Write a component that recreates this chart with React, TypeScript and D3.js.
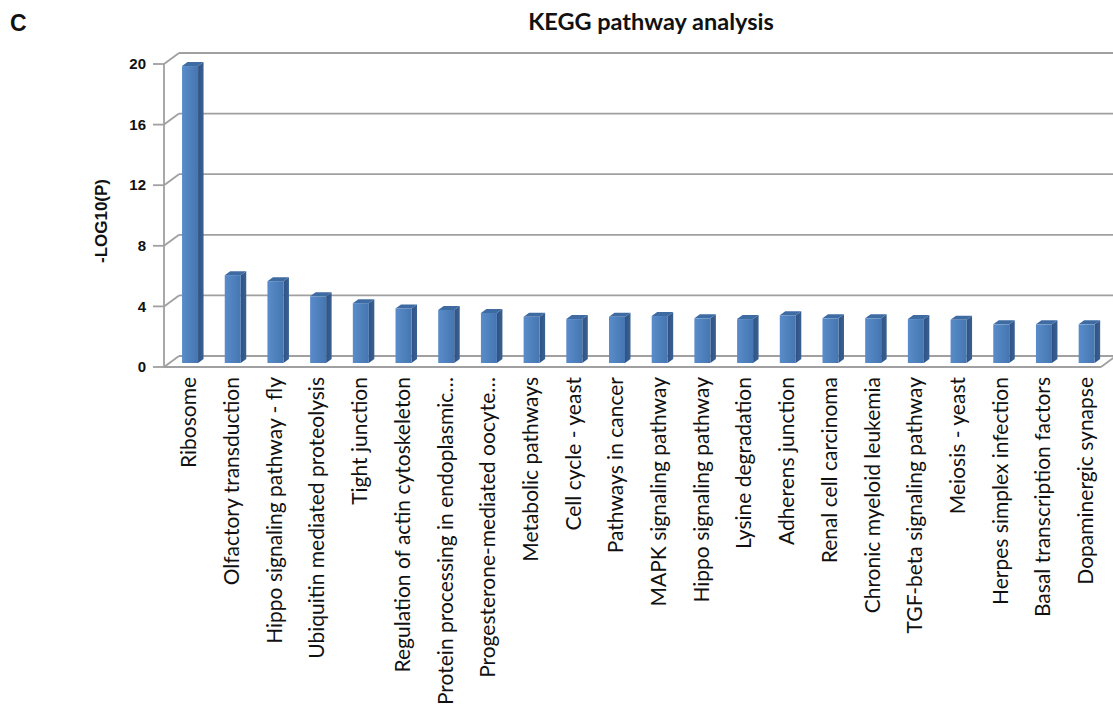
import React from "react";
import * as d3 from "d3";

const categories: string[] = [
  "Ribosome",
  "Olfactory transduction",
  "Hippo signaling pathway - fly",
  "Ubiquitin mediated proteolysis",
  "Tight junction",
  "Regulation of actin cytoskeleton",
  "Protein processing in endoplasmic…",
  "Progesterone-mediated oocyte…",
  "Metabolic pathways",
  "Cell cycle - yeast",
  "Pathways in cancer",
  "MAPK signaling pathway",
  "Hippo signaling pathway",
  "Lysine degradation",
  "Adherens junction",
  "Renal cell carcinoma",
  "Chronic myeloid leukemia",
  "TGF-beta signaling pathway",
  "Meiosis - yeast",
  "Herpes simplex infection",
  "Basal transcription factors",
  "Dopaminergic synapse",
];

const negLogP: number[] = [
  19.6, 5.8, 5.4, 4.4, 3.95, 3.6, 3.5, 3.3, 3.05, 2.9, 3.05, 3.1, 2.95, 2.9,
  3.15, 2.95, 2.95, 2.9, 2.85, 2.55, 2.55, 2.55,
];

const yTicks: number[] = [0, 4, 8, 12, 16, 20];

const W = 1113;
const H = 708;

// Plot box: front plane and depth offset of the 3D wall/floor
const frontLeft = 164;
const frontRight = 1101;
const depthX = 15;
const depthY = -11;
const frontBottom = 367;
const frontTop = 64;

// Column block depth
const barDx = 5.5;
const barDy = -4;

const labelFont = "Lato, 'Open Sans', sans-serif";

export default function App() {
  const yFront = d3.scaleLinear().domain([0, 20]).range([frontBottom, frontTop]);
  const yBack = d3
    .scaleLinear()
    .domain([0, 20])
    .range([frontBottom + depthY, frontTop + depthY]);
  // bars stand a little behind the front plane
  const yBar = d3
    .scaleLinear()
    .domain([0, 20])
    .range([frontBottom - 4, frontTop - 4]);

  const x = d3
    .scaleBand<string>()
    .domain(categories)
    .range([168.7, 1108])
    .paddingInner(0.625)
    .paddingOuter(0.3125);
  const bw = x.bandwidth();

  const grid = "#a0a0a0";

  return (
    <svg
      width={W}
      height={H}
      viewBox={`0 0 ${W} ${H}`}
      style={{ position: "absolute", left: 0, top: 0, background: "#fff" }}
    >
      <defs>
        <linearGradient id="barFront" x1="0" x2="1" y1="0" y2="0">
          <stop offset="0" stopColor="#5a8ccb" />
          <stop offset="0.5" stopColor="#4f81bd" />
          <stop offset="1" stopColor="#4576b2" />
        </linearGradient>
        <linearGradient id="barSide" x1="0" x2="1" y1="0" y2="0">
          <stop offset="0" stopColor="#2f5283" />
          <stop offset="1" stopColor="#3a6193" />
        </linearGradient>
      </defs>

      <text x={10} y={31} fontFamily="'Liberation Sans', Arial, sans-serif" fontWeight="bold" fontSize={23} fill="#111">
        C
      </text>
      <text
        x={651}
        y={30}
        textAnchor="middle"
        fontFamily={labelFont}
        fontWeight="bold"
        fontSize={23.5}
        fill="#111"
      >
        KEGG pathway analysis
      </text>

      {/* back wall gridlines and side-wall diagonals */}
      {yTicks.map((t) => (
        <g key={`g${t}`} stroke={grid} strokeWidth={1.8} fill="none">
          <line x1={frontLeft + depthX} x2={W + 5} y1={yBack(t)} y2={yBack(t)} />
          <line x1={frontLeft} y1={yFront(t)} x2={frontLeft + depthX} y2={yBack(t)} />
          <line x1={frontLeft - 11} x2={frontLeft} y1={yFront(t)} y2={yFront(t)} />
        </g>
      ))}
      {/* front floor edge and axis */}
      <g stroke={grid} strokeWidth={1.8} fill="none">
        <line x1={frontLeft} x2={frontLeft} y1={yFront(20)} y2={yFront(0)} />
        <line x1={frontLeft} x2={frontRight} y1={yFront(0)} y2={yFront(0)} />
        <line x1={frontRight} y1={yFront(0)} x2={frontRight + depthX} y2={yBack(0)} />
      </g>

      {/* columns */}
      {categories.map((c, i) => {
        const bx = x(c) as number;
        const v = negLogP[i];
        const yt = yBar(v);
        const y0 = yBar(0);
        const side = `${bx + bw},${yt} ${bx + bw + barDx},${yt + barDy} ${bx + bw + barDx},${y0 + barDy} ${bx + bw},${y0}`;
        const top = `${bx},${yt} ${bx + barDx},${yt + barDy} ${bx + bw + barDx},${yt + barDy} ${bx + bw},${yt}`;
        return (
          <g key={c}>
            <polygon points={side} fill="url(#barSide)" />
            <polygon points={top} fill="#3f6ba3" />
            <rect x={bx} y={yt} width={bw} height={y0 - yt} fill="url(#barFront)" />
          </g>
        );
      })}

      {/* y tick labels */}
      {yTicks.map((t) => (
        <text
          key={`t${t}`}
          x={frontLeft - 18}
          y={yFront(t)}
          dy="0.35em"
          textAnchor="end"
          fontFamily="'Liberation Sans', Arial, sans-serif"
          fontWeight="bold"
          fontSize={15}
          fill="#111"
        >
          {t}
        </text>
      ))}

      <text
        transform={`translate(101,221) rotate(-90)`}
        textAnchor="middle"
        dy="0.35em"
        fontFamily="'Liberation Sans', Arial, sans-serif"
        fontWeight="bold"
        fontSize={17}
        fill="#111"
      >
        -LOG10(P)
      </text>

      {/* category labels */}
      {categories.map((c) => {
        const cx = (x(c) as number) + bw / 2 - 1;
        return (
          <text
            key={`l${c}`}
            transform={`translate(${cx},377) rotate(-90)`}
            textAnchor="end"
            dy="0.35em"
            fontFamily={labelFont}
            fontSize={21}
            fill="#111"
          >
            {c}
          </text>
        );
      })}
    </svg>
  );
}
